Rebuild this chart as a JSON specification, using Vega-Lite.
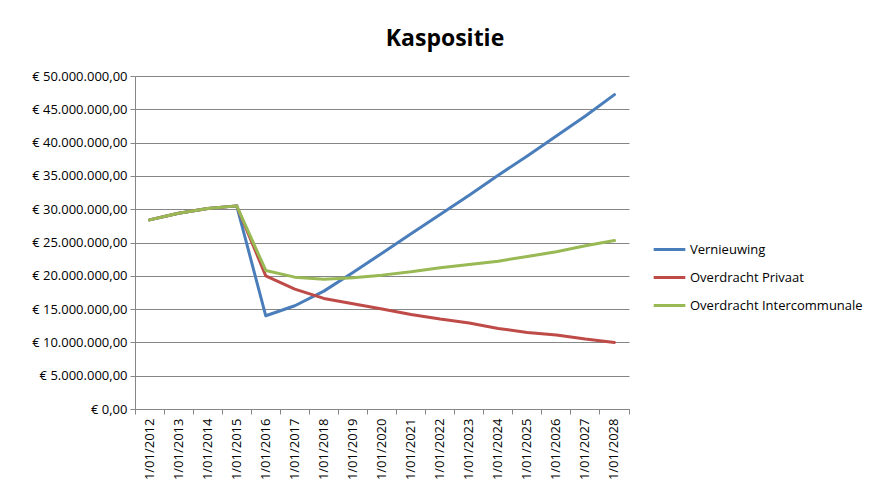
{
  "$schema": "https://vega.github.io/schema/vega-lite/v6.json",
  "autosize": "none",
  "width": 494,
  "height": 333,
  "padding": {"left": 135, "top": 76, "right": 241, "bottom": 81},
  "background": "white",
  "title": {
    "text": "Kaspositie",
    "fontSize": 23,
    "fontWeight": "bold",
    "font": "Open Sans",
    "color": "black",
    "anchor": "middle",
    "frame": "group",
    "dx": 63,
    "offset": 19
  },
  "data": {
    "values": [
      {"datum": "1/01/2012", "reeks": "Vernieuwing", "waarde": 28400000},
      {"datum": "1/01/2013", "reeks": "Vernieuwing", "waarde": 29400000},
      {"datum": "1/01/2014", "reeks": "Vernieuwing", "waarde": 30100000},
      {"datum": "1/01/2015", "reeks": "Vernieuwing", "waarde": 30500000},
      {"datum": "1/01/2016", "reeks": "Vernieuwing", "waarde": 14000000},
      {"datum": "1/01/2017", "reeks": "Vernieuwing", "waarde": 15500000},
      {"datum": "1/01/2018", "reeks": "Vernieuwing", "waarde": 17700000},
      {"datum": "1/01/2019", "reeks": "Vernieuwing", "waarde": 20500000},
      {"datum": "1/01/2020", "reeks": "Vernieuwing", "waarde": 23400000},
      {"datum": "1/01/2021", "reeks": "Vernieuwing", "waarde": 26300000},
      {"datum": "1/01/2022", "reeks": "Vernieuwing", "waarde": 29200000},
      {"datum": "1/01/2023", "reeks": "Vernieuwing", "waarde": 32100000},
      {"datum": "1/01/2024", "reeks": "Vernieuwing", "waarde": 35100000},
      {"datum": "1/01/2025", "reeks": "Vernieuwing", "waarde": 38000000},
      {"datum": "1/01/2026", "reeks": "Vernieuwing", "waarde": 41000000},
      {"datum": "1/01/2027", "reeks": "Vernieuwing", "waarde": 44000000},
      {"datum": "1/01/2028", "reeks": "Vernieuwing", "waarde": 47200000},
      {"datum": "1/01/2012", "reeks": "Overdracht Privaat", "waarde": 28400000},
      {"datum": "1/01/2013", "reeks": "Overdracht Privaat", "waarde": 29400000},
      {"datum": "1/01/2014", "reeks": "Overdracht Privaat", "waarde": 30100000},
      {"datum": "1/01/2015", "reeks": "Overdracht Privaat", "waarde": 30500000},
      {"datum": "1/01/2016", "reeks": "Overdracht Privaat", "waarde": 20000000},
      {"datum": "1/01/2017", "reeks": "Overdracht Privaat", "waarde": 18000000},
      {"datum": "1/01/2018", "reeks": "Overdracht Privaat", "waarde": 16600000},
      {"datum": "1/01/2019", "reeks": "Overdracht Privaat", "waarde": 15800000},
      {"datum": "1/01/2020", "reeks": "Overdracht Privaat", "waarde": 15000000},
      {"datum": "1/01/2021", "reeks": "Overdracht Privaat", "waarde": 14200000},
      {"datum": "1/01/2022", "reeks": "Overdracht Privaat", "waarde": 13500000},
      {"datum": "1/01/2023", "reeks": "Overdracht Privaat", "waarde": 12900000},
      {"datum": "1/01/2024", "reeks": "Overdracht Privaat", "waarde": 12100000},
      {"datum": "1/01/2025", "reeks": "Overdracht Privaat", "waarde": 11500000},
      {"datum": "1/01/2026", "reeks": "Overdracht Privaat", "waarde": 11100000},
      {"datum": "1/01/2027", "reeks": "Overdracht Privaat", "waarde": 10500000},
      {"datum": "1/01/2028", "reeks": "Overdracht Privaat", "waarde": 10000000},
      {"datum": "1/01/2012", "reeks": "Overdracht Intercommunale", "waarde": 28400000},
      {"datum": "1/01/2013", "reeks": "Overdracht Intercommunale", "waarde": 29400000},
      {"datum": "1/01/2014", "reeks": "Overdracht Intercommunale", "waarde": 30100000},
      {"datum": "1/01/2015", "reeks": "Overdracht Intercommunale", "waarde": 30500000},
      {"datum": "1/01/2016", "reeks": "Overdracht Intercommunale", "waarde": 20800000},
      {"datum": "1/01/2017", "reeks": "Overdracht Intercommunale", "waarde": 19800000},
      {"datum": "1/01/2018", "reeks": "Overdracht Intercommunale", "waarde": 19500000},
      {"datum": "1/01/2019", "reeks": "Overdracht Intercommunale", "waarde": 19700000},
      {"datum": "1/01/2020", "reeks": "Overdracht Intercommunale", "waarde": 20100000},
      {"datum": "1/01/2021", "reeks": "Overdracht Intercommunale", "waarde": 20600000},
      {"datum": "1/01/2022", "reeks": "Overdracht Intercommunale", "waarde": 21200000},
      {"datum": "1/01/2023", "reeks": "Overdracht Intercommunale", "waarde": 21700000},
      {"datum": "1/01/2024", "reeks": "Overdracht Intercommunale", "waarde": 22200000},
      {"datum": "1/01/2025", "reeks": "Overdracht Intercommunale", "waarde": 22900000},
      {"datum": "1/01/2026", "reeks": "Overdracht Intercommunale", "waarde": 23600000},
      {"datum": "1/01/2027", "reeks": "Overdracht Intercommunale", "waarde": 24500000},
      {"datum": "1/01/2028", "reeks": "Overdracht Intercommunale", "waarde": 25300000}
    ]
  },
  "mark": {"type": "line", "strokeWidth": 3, "strokeCap": "round", "strokeJoin": "round"},
  "encoding": {
    "x": {
      "field": "datum",
      "type": "ordinal",
      "bandPosition": 0.5,
      "scale": {"type": "band", "paddingInner": 0, "paddingOuter": 0},
      "axis": {
        "title": null,
        "labelAngle": -90,
        "labelAlign": "right",
        "labelBaseline": "middle",
        "bandPosition": 1,
        "tickExtra": true,
        "labelOverlap": false,
        "labelPadding": 4,
        "labelFont": "Open Sans",
        "labelFontSize": 13,
        "labelColor": "black",
        "tickSize": 5,
        "tickColor": "#868686",
        "domainColor": "#868686",
        "grid": false
      }
    },
    "y": {
      "field": "waarde",
      "type": "quantitative",
      "scale": {"domain": [0, 50000000], "nice": false},
      "axis": {
        "title": null,
        "values": [0, 5000000, 10000000, 15000000, 20000000, 25000000, 30000000, 35000000, 40000000, 45000000, 50000000],
        "format": "$,.2f",
        "labelFont": "Open Sans",
        "labelFontSize": 13,
        "labelColor": "black",
        "labelPadding": 3,
        "tickSize": 5,
        "tickColor": "#868686",
        "domainColor": "#868686",
        "grid": true,
        "gridColor": "#868686",
        "gridWidth": 1
      }
    },
    "color": {
      "field": "reeks",
      "type": "nominal",
      "sort": ["Vernieuwing", "Overdracht Privaat", "Overdracht Intercommunale"],
      "scale": {
        "domain": ["Vernieuwing", "Overdracht Privaat", "Overdracht Intercommunale"],
        "range": ["#4a7ebb", "#be4b48", "#98b954"]
      },
      "legend": {
        "title": null,
        "orient": "none",
        "legendX": 517,
        "legendY": 156,
        "symbolType": "stroke",
        "symbolSize": 1000,
        "symbolStrokeWidth": 3,
        "labelFont": "Open Sans",
        "labelFontSize": 13,
        "labelColor": "black",
        "labelOffset": 3,
        "rowPadding": 3,
        "labelLimit": 300
      }
    }
  },
  "config": {
    "locale": {
      "number": {"decimal": ",", "thousands": ".", "grouping": [3], "currency": ["€ ", ""]}
    },
    "view": {"stroke": null}
  }
}
